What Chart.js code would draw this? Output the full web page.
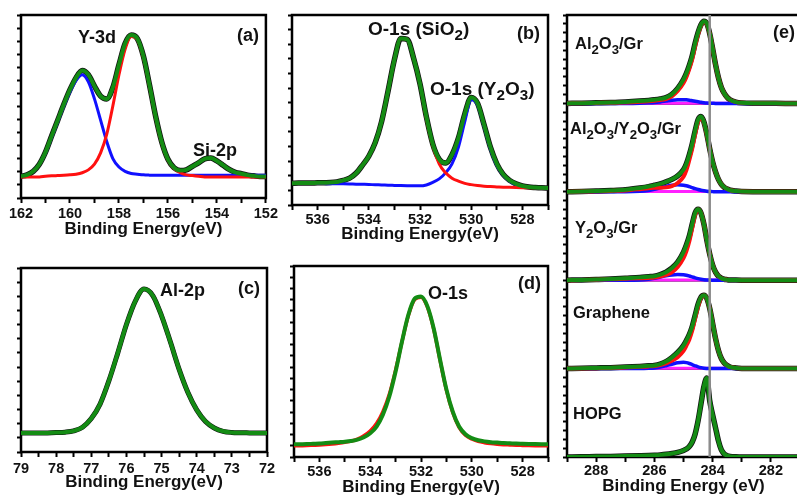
<!DOCTYPE html>
<html>
<head>
<meta charset="utf-8">
<script src="https://cdn.jsdelivr.net/npm/chart.js@4.4.1/dist/chart.umd.min.js"></script>
<style>
  html, body { margin: 0; padding: 0; background: #fff; overflow: hidden; }
  body { width: 797px; height: 495px; position: relative; font-family: "Liberation Sans", Arial, sans-serif; font-weight: bold; }
  canvas { position: absolute; }
  .lbl { position: absolute; z-index: 5; font-size: 18px; line-height: 20px; color: #111; white-space: nowrap; }
  .lbl sub { font-size: 0.8em; vertical-align: -0.35em; line-height: 0; }
  .lbl.big { font-size: 19px; }
  .lbl.e { font-size: 16.5px; }
</style>
</head>
<body>
<canvas id="pa" width="280" height="240" style="left:0;top:0"></canvas>
<canvas id="pb" width="280" height="245" style="left:280px;top:0"></canvas>
<canvas id="pc" width="280" height="243" style="left:0;top:250px"></canvas>
<canvas id="pd" width="280" height="248" style="left:280px;top:250px"></canvas>
<canvas id="pe" width="260" height="497" style="left:555px;top:0"></canvas>

<div class="lbl" style="left:78px;top:27px">Y-3d</div>
<div class="lbl" style="left:237px;top:25px">(a)</div>
<div class="lbl" style="left:193px;top:140px">Si-2p</div>
<div class="lbl big" style="left:368px;top:19px">O-1s (SiO<sub>2</sub>)</div>
<div class="lbl big" style="left:430px;top:79px">O-1s (Y<sub>2</sub>O<sub>3</sub>)</div>
<div class="lbl" style="left:517px;top:23px">(b)</div>
<div class="lbl" style="left:160px;top:280px">Al-2p</div>
<div class="lbl" style="left:238px;top:278px">(c)</div>
<div class="lbl" style="left:428px;top:283px">O-1s</div>
<div class="lbl" style="left:518px;top:273px">(d)</div>
<div class="lbl" style="left:773px;top:22px">(e)</div>
<div class="lbl e" style="left:575px;top:33px">Al<sub>2</sub>O<sub>3</sub>/Gr</div>
<div class="lbl e" style="left:570px;top:118px">Al<sub>2</sub>O<sub>3</sub>/Y<sub>2</sub>O<sub>3</sub>/Gr</div>
<div class="lbl e" style="left:575px;top:217px">Y<sub>2</sub>O<sub>3</sub>/Gr</div>
<div class="lbl e" style="left:573px;top:302px">Graphene</div>
<div class="lbl e" style="left:573px;top:403px">HOPG</div>

<script>
// (a) Y-3d + Si-2p --------------------------------------------
const aEnergy = [162,161.75,161.5,161.25,161,160.75,160.5,160.25,160,159.75,159.5,159.25,159,158.75,158.5,158.25,158,157.75,157.5,157.25,157,156.75,156.5,156.25,156,155.75,155.5,155.25,155,154.75,154.5,154.25,154,153.75,153.5,153.25,153,152.75,152.5,152.25,152];
const aFit = [0.005,0.015,0.04,0.09,0.175,0.288,0.4,0.512,0.615,0.7,0.75,0.72,0.64,0.57,0.55,0.63,0.79,0.94,1.0,0.975,0.85,0.645,0.425,0.245,0.125,0.065,0.045,0.05,0.075,0.1,0.128,0.133,0.113,0.083,0.053,0.033,0.023,0.013,0.008,0.003,0.003];
const aRed = [0,0,0,0,0.005,0.008,0.01,0.012,0.015,0.02,0.03,0.05,0.09,0.17,0.3,0.5,0.72,0.9,0.99,0.97,0.84,0.64,0.42,0.24,0.12,0.06,0.03,0.015,0.01,0.005,0,0,0,0,0,0,0,0,0,0,0];
const aBlue = [0.005,0.015,0.04,0.09,0.17,0.28,0.39,0.5,0.6,0.68,0.72,0.67,0.55,0.4,0.25,0.13,0.07,0.04,0.025,0.02,0.015,0.013,0.012,0.012,0.012,0.012,0.012,0.012,0.012,0.012,0.012,0.012,0.012,0.012,0.012,0.012,0.012,0.012,0.012,0.012,0.012];
const aTicks = [162,161,160,159,158,157,156,155,154,153,152];
const aTickLabels = [162,160,158,156,154,152];

// (b) O-1s with SiO2 and Y2O3 components, (d) O-1s ------------
const oEnergy = [537,536.75,536.5,536.25,536,535.75,535.5,535.25,535,534.75,534.5,534.25,534,533.75,533.5,533.25,533,532.75,532.5,532.25,532,531.75,531.5,531.25,531,530.75,530.5,530.25,530,529.75,529.5,529.25,529,528.75,528.5,528.25,528,527.75,527.5,527.25,527];
const bFit = [0.031,0.032,0.032,0.033,0.034,0.035,0.036,0.04,0.05,0.065,0.097,0.15,0.21,0.3,0.44,0.64,0.85,0.99,0.985,0.86,0.69,0.47,0.29,0.19,0.165,0.22,0.33,0.49,0.6,0.56,0.42,0.27,0.16,0.09,0.05,0.027,0.013,0.006,0.003,0.001,0];
const bRed = [0.031,0.032,0.032,0.033,0.034,0.035,0.036,0.04,0.05,0.065,0.097,0.15,0.21,0.3,0.44,0.64,0.85,0.99,0.985,0.86,0.69,0.46,0.28,0.16,0.1,0.065,0.045,0.03,0.022,0.016,0.012,0.009,0.007,0.005,0.004,0.003,0.002,0.001,0.001,0,0];
const bBlue = [0.031,0.031,0.03,0.03,0.03,0.029,0.028,0.028,0.027,0.026,0.025,0.024,0.023,0.021,0.02,0.018,0.017,0.016,0.015,0.014,0.014,0.02,0.037,0.06,0.1,0.16,0.27,0.44,0.585,0.55,0.41,0.26,0.15,0.085,0.045,0.022,0.011,0.005,0.002,0,0];
const dFit = [0,0.001,0.002,0.004,0.006,0.009,0.012,0.015,0.018,0.023,0.032,0.048,0.075,0.12,0.2,0.32,0.49,0.69,0.87,0.98,0.995,0.93,0.78,0.57,0.37,0.22,0.12,0.068,0.042,0.028,0.02,0.015,0.012,0.009,0.007,0.005,0.004,0.003,0.002,0.001,0];
const dRed = [-0.01,-0.009,-0.008,-0.006,-0.004,-0.001,0.003,0.008,0.014,0.022,0.036,0.058,0.09,0.14,0.22,0.335,0.5,0.69,0.865,0.975,0.99,0.925,0.775,0.565,0.365,0.215,0.115,0.062,0.036,0.02,0.011,0.005,0.001,-0.002,-0.004,-0.006,-0.007,-0.008,-0.009,-0.01,-0.01];
const oTicks = [537,536,535,534,533,532,531,530,529,528,527];
const oTickLabels = [536,534,532,530,528];

// (c) Al-2p --------------------------------------------
const cEnergy = [79,78.75,78.5,78.25,78,77.75,77.5,77.25,77,76.75,76.5,76.25,76,75.75,75.5,75.25,75,74.75,74.5,74.25,74,73.75,73.5,73.25,73,72.75,72.5,72.25,72];
const cFit = [0,0,0,0.001,0.003,0.006,0.015,0.04,0.1,0.2,0.36,0.55,0.75,0.91,0.995,0.95,0.81,0.63,0.44,0.28,0.16,0.08,0.035,0.012,0.004,0.002,0.001,0,0];
const cTicks = [79,78.5,78,77.5,77,76.5,76,75.5,75,74.5,74,73.5,73,72.5,72];
const cTickLabels = [79,78,77,76,75,74,73,72];

// (e) C-1s, top to bottom --------------------------------------------
const eEnergy = [289,288.5,288,287.5,287,286.5,286.2,286,285.8,285.6,285.4,285.2,285,284.9,284.8,284.7,284.6,284.5,284.4,284.3,284.2,284.1,284,283.9,283.8,283.7,283.6,283.5,283.4,283.2,283,282.5,282,281.5,281];
const eSamples = ['Al2O3/Gr', 'Al2O3/Y2O3/Gr', 'Y2O3/Gr', 'Graphene', 'HOPG'];
const eFit = [
  [0,0.002,0.006,0.01,0.016,0.026,0.034,0.041,0.051,0.066,0.102,0.17,0.27,0.34,0.43,0.54,0.68,0.8,0.89,0.93,0.905,0.79,0.62,0.44,0.29,0.18,0.113,0.068,0.04,0.015,0.006,0.002,0.001,0,0],
  [0,0.003,0.008,0.014,0.023,0.043,0.059,0.074,0.09,0.113,0.141,0.181,0.249,0.317,0.419,0.543,0.69,0.815,0.852,0.792,0.656,0.486,0.339,0.226,0.141,0.085,0.051,0.031,0.018,0.008,0.003,0.001,0,0,0],
  [0,0.003,0.008,0.014,0.023,0.032,0.04,0.045,0.063,0.091,0.136,0.205,0.318,0.398,0.5,0.636,0.761,0.803,0.761,0.636,0.455,0.295,0.17,0.091,0.045,0.023,0.011,0.006,0.003,0.001,0,0,0,0,0],
  [0,0.003,0.007,0.011,0.017,0.025,0.031,0.036,0.051,0.08,0.125,0.182,0.261,0.318,0.386,0.477,0.602,0.727,0.807,0.83,0.795,0.682,0.511,0.341,0.205,0.114,0.063,0.034,0.018,0.007,0.002,0,0,0,0],
  [0,0.002,0.005,0.007,0.01,0.014,0.017,0.02,0.024,0.03,0.039,0.052,0.074,0.091,0.119,0.17,0.261,0.409,0.602,0.795,0.894,0.636,0.477,0.33,0.182,0.08,0.034,0.015,0.007,0.002,0,0,0,0,0]
];
const eRed = [
  [0,0.002,0.005,0.008,0.01,0.018,0.024,0.03,0.038,0.05,0.08,0.14,0.23,0.3,0.39,0.5,0.65,0.78,0.88,0.925,0.9,0.79,0.62,0.44,0.29,0.18,0.113,0.068,0.04,0.015,0.006,0.002,0.001,0,0],
  [0,0.002,0.006,0.01,0.016,0.03,0.04,0.045,0.045,0.05,0.065,0.1,0.17,0.245,0.36,0.49,0.65,0.79,0.84,0.785,0.65,0.482,0.337,0.225,0.141,0.085,0.051,0.031,0.018,0.008,0.003,0.001,0,0,0],
  [0,0.002,0.006,0.01,0.016,0.022,0.026,0.03,0.04,0.06,0.09,0.15,0.25,0.33,0.44,0.59,0.74,0.8,0.76,0.636,0.455,0.295,0.17,0.091,0.045,0.023,0.011,0.006,0.003,0.001,0,0,0,0,0],
  [0,0.002,0.005,0.008,0.012,0.02,0.025,0.03,0.04,0.06,0.09,0.13,0.2,0.26,0.33,0.43,0.57,0.7,0.8,0.828,0.795,0.682,0.511,0.341,0.205,0.114,0.063,0.034,0.018,0.007,0.002,0,0,0,0],
  null
];
const eBlue = [
  [0,0,0,0,0,0.002,0.006,0.01,0.017,0.026,0.035,0.041,0.042,0.04,0.036,0.03,0.024,0.018,0.012,0.008,0.005,0.003,0.002,0,0,0,0,0,0,0,0,0,0,0,0],
  [0,0,0,0,0,0.005,0.015,0.028,0.045,0.06,0.073,0.079,0.075,0.068,0.058,0.047,0.036,0.026,0.018,0.012,0.007,0.004,0.002,0,0,0,0,0,0,0,0,0,0,0,0],
  [0,0,0,0,0,0.003,0.012,0.022,0.036,0.05,0.06,0.065,0.062,0.056,0.047,0.037,0.027,0.018,0.011,0.006,0.003,0.001,0,0,0,0,0,0,0,0,0,0,0,0,0],
  [0,0,0,0,0,0,0.003,0.008,0.018,0.033,0.05,0.066,0.072,0.068,0.058,0.045,0.032,0.02,0.011,0.005,0.002,0,0,0,0,0,0,0,0,0,0,0,0,0,0],
  null
];
// flat magenta background component: start/end energy and level
const eMagentaFrom = [287, 286.5, 286.5, 287, null];
const eMagentaTo = [283.4, 283.6, 283.7, 283.5, null];
const eMagentaLevel = [0.003, 0.003, 0.003, 0.003, null];
const eRefLine = 284.1;
const eTicks = [289,288,287,286,285,284,283,282,281];
const eTickLabels = [288,286,284,282];

// helpers --------------------------------------------
const GREEN = '#148c14', RED = '#ff1010', BLUE = '#1010ff', MAGENTA = '#ff20ff', BLACK = '#111', GRAY = '#8c8c8c';

function pts(xs, ys, off) {
  return xs.map((x, i) => ({x: x, y: ys[i] == null ? null : ys[i] + (off || 0)}));
}

function line(data, color, width, order) {
  return {
    data: data, borderColor: color, backgroundColor: color, borderWidth: width,
    pointRadius: 0, pointHoverRadius: 0, fill: false,
    cubicInterpolationMode: 'monotone', order: order
  };
}

const framePlugin = {
  id: 'frame',
  beforeDatasetsDraw(chart, args, opts) {
    const {ctx, chartArea: a} = chart;
    ctx.save();
    ctx.strokeStyle = '#000';
    ctx.lineWidth = 2.5;
    (opts.dividers || []).forEach(v => {
      const py = chart.scales.y.getPixelForValue(v);
      ctx.beginPath();
      ctx.moveTo(a.left, py);
      ctx.lineTo(a.right, py);
      ctx.stroke();
    });
    ctx.strokeRect(a.left, a.top, a.right - a.left, a.bottom - a.top);
    ctx.restore();
  }
};
Chart.register(framePlugin);

function panel(id, c) {
  const tickFont = {family: 'Liberation Sans', weight: 'bold', size: 14.5};
  return new Chart(document.getElementById(id), {
    type: 'line',
    data: {datasets: c.datasets},
    options: {
      responsive: false,
      animation: false,
      events: [],
      layout: {padding: {top: c.padTop, right: c.padRight, left: 0, bottom: 0}},
      plugins: {legend: {display: false}, tooltip: {enabled: false}, frame: {dividers: c.dividers}},
      scales: {
        x: {
          type: 'linear', reverse: true, min: c.xMin, max: c.xMax,
          afterBuildTicks: s => { s.ticks = c.xTicks.map(v => ({value: v})); },
          afterFit: s => { s.height = c.xH; },
          ticks: {
            autoSkip: false, maxRotation: 0, padding: c.labelPad, color: '#111', font: tickFont,
            callback: v => c.xLabels.includes(v) ? String(v) : ''
          },
          grid: {drawOnChartArea: false, tickLength: 5, tickWidth: 2, tickColor: '#000'},
          border: {display: false},
          title: {display: true, text: c.title, color: '#111', padding: 0,
                  font: {family: 'Liberation Sans', weight: 'bold', size: 17}}
        },
        y: {
          type: 'linear', min: c.yMin, max: c.yMax,
          afterBuildTicks: s => {
            const t = [];
            for (let i = 0; i <= c.yDiv; i++) t.push({value: c.yMin + (c.yMax - c.yMin) * i / c.yDiv});
            s.ticks = t;
          },
          afterFit: s => { s.width = c.yW; },
          ticks: {display: false},
          grid: {drawOnChartArea: false, tickLength: 4, tickWidth: 2, tickColor: '#000'},
          border: {display: false}
        }
      }
    }
  });
}

// (a)
panel('pa', {
  padTop: 15, padRight: 13, yW: 21, xH: 42, labelPad: 2,
  xMin: 152, xMax: 162, xTicks: aTicks, xLabels: aTickLabels,
  yMin: -0.148, yMax: 1.141, yDiv: 14,
  title: 'Binding Energy(eV)',
  datasets: [
    line(pts(aEnergy, aFit), GREEN, 4, 1),
    line(pts(aEnergy, aRed), RED, 3, 3),
    line(pts(aEnergy, aBlue), BLUE, 3, 4),
    line(pts(aEnergy, aFit), BLACK, 5.5, 6)
  ]
});

// (b)
panel('pb', {
  padTop: 15, padRight: 12, yW: 12, xH: 40, labelPad: 1,
  xMin: 527, xMax: 537, xTicks: oTicks, xLabels: oTickLabels,
  yMin: -0.113, yMax: 1.146, yDiv: 13,
  title: 'Binding Energy(eV)',
  datasets: [
    line(pts(oEnergy, bFit), GREEN, 4, 1),
    line(pts(oEnergy, bRed), RED, 3, 3),
    line(pts(oEnergy, bBlue), BLUE, 3, 4),
    line(pts(oEnergy, bFit), BLACK, 5.5, 6)
  ]
});

// (c)
panel('pc', {
  padTop: 18, padRight: 13, yW: 21, xH: 41, labelPad: 3,
  xMin: 72, xMax: 79, xTicks: cTicks, xLabels: cTickLabels,
  yMin: -0.131, yMax: 1.14, yDiv: 13,
  title: 'Binding Energy(eV)',
  datasets: [
    line(pts(cEnergy, cFit), GREEN, 4, 1),
    line(pts(cEnergy, cFit), BLACK, 5, 6)
  ]
});

// (d)
panel('pd', {
  padTop: 16, padRight: 12, yW: 14, xH: 41, labelPad: 1,
  xMin: 527, xMax: 537, xTicks: oTicks, xLabels: oTickLabels,
  yMin: -0.085, yMax: 1.2, yDiv: 17,
  title: 'Binding Energy(eV)',
  datasets: [
    line(pts(oEnergy, dFit), GREEN, 4, 1),
    line(pts(oEnergy, dRed), RED, 3.5, 3)
  ]
});

// (e) stacked spectra, offset by row
const eSets = [
  line([{x: eRefLine, y: 0}, {x: eRefLine, y: eSamples.length}], GRAY, 2.5, 0)
];
eSamples.forEach((name, k) => {
  const off = eSamples.length - 1 - k;
  eSets.push(line(pts(eEnergy, eFit[k], off), GREEN, 4, 1));
  if (eRed[k]) eSets.push(line(pts(eEnergy, eRed[k], off), RED, 4, 3));
  if (eBlue[k]) eSets.push(line(pts(eEnergy, eBlue[k], off), BLUE, 3.5, 4));
  if (eMagentaFrom[k] != null) {
    eSets.push(line([{x: eMagentaFrom[k], y: eMagentaLevel[k] + off}, {x: eMagentaTo[k], y: eMagentaLevel[k] + off}], MAGENTA, 3, 5));
  }
  eSets.push(line(pts(eEnergy, eFit[k], off), BLACK, 5.5, 6));
});

panel('pe', {
  padTop: 15, padRight: 15, yW: 12, xH: 40, labelPad: 0,
  xMin: 281, xMax: 289, xTicks: eTicks, xLabels: eTickLabels,
  yMin: 0, yMax: 5, yDiv: 50,
  dividers: [1, 2, 3, 4],
  title: 'Binding Energy (eV)',
  datasets: eSets
});
</script>
</body>
</html>
